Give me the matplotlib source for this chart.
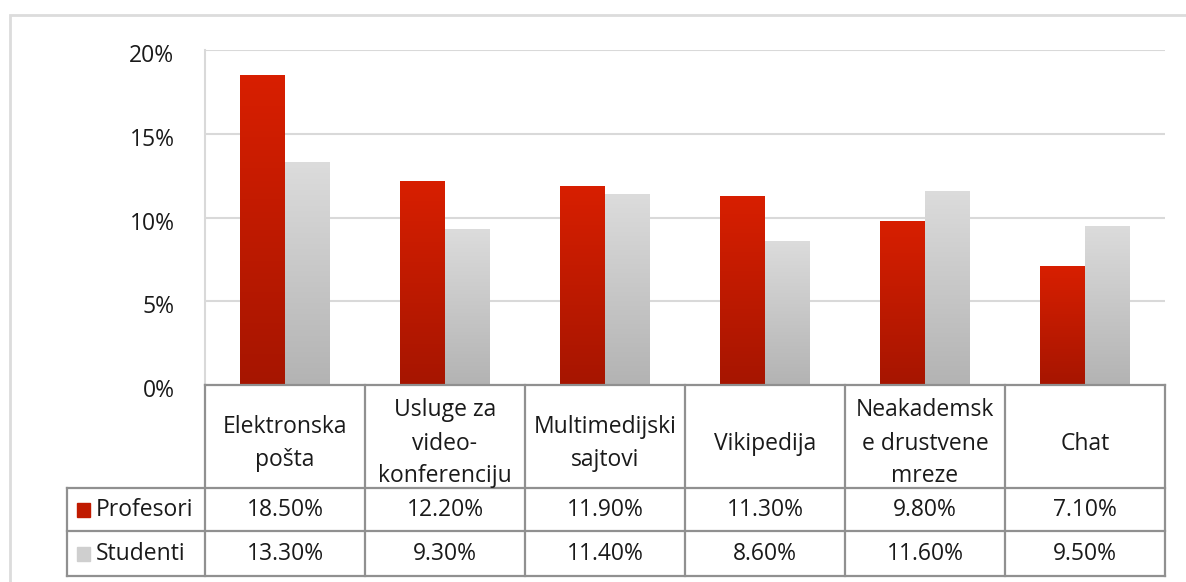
import numpy as np
import matplotlib
matplotlib.use('Agg')
import matplotlib.pyplot as plt
from matplotlib.patches import Rectangle
from matplotlib.transforms import blended_transform_factory, ScaledTranslation
from matplotlib.colors import LinearSegmentedColormap

categories = ['Elektronska\npošta', 'Usluge za\nvideo-\nkonferenciju', 'Multimedijski\nsajtovi',
              'Vikipedija', 'Neakademsk\ne drustvene\nmreze', 'Chat']
profesori = [18.5, 12.2, 11.9, 11.3, 9.8, 7.1]
studenti = [13.3, 9.3, 11.4, 8.6, 11.6, 9.5]
series_names = ['Profesori', 'Studenti']
yticks = [0, 5, 10, 15, 20]

plt.rcParams['font.family'] = ['Open Sans', 'DejaVu Sans']
FS = 16.5
TXT = '#1a1a1a'

W, H = 1186, 582
fig = plt.figure(figsize=(W / 100, H / 100), dpi=100)
ax = fig.add_axes([205 / W, 1 - 385 / H, 960 / W, 335 / H])

# gradient colour maps (top -> bottom)
red_cmap = LinearSegmentedColormap.from_list('red', ['#a61500', '#d81f00'])
grey_cmap = LinearSegmentedColormap.from_list('grey', ['#b3b3b3', '#dcdcdc'])

x = np.arange(len(categories))
bw = 0.28
series = [(profesori, -bw / 2, red_cmap), (studenti, bw / 2, grey_cmap)]
grad = np.linspace(0, 1, 256).reshape(-1, 1)
for vals, off, cmap in series:
    bars = ax.bar(x + off, vals, width=bw, color='none', zorder=2)
    for b in bars:
        x0, h = b.get_x(), b.get_height()
        im = ax.imshow(grad, extent=[x0, x0 + bw, 0, h], origin='lower', aspect='auto',
                       cmap=cmap, zorder=2)
        im.set_clip_path(b)

ax.set_xlim(-0.5, len(categories) - 0.5)
ax.set_ylim(0, 20)
ax.set_yticks(yticks)
ax.set_yticklabels([f'{v}%' for v in yticks], fontsize=FS, color=TXT)
ax.set_xticks([])
ax.tick_params(axis='y', length=0, pad=22)
shift = ScaledTranslation(0, -3 / 100, fig.dpi_scale_trans)
for t in ax.get_yticklabels():
    t.set_transform(t.get_transform() + shift)
ax.yaxis.grid(True, color='#d9d9d9', lw=1.5)
ax.set_axisbelow(True)
for s in ['top', 'right', 'bottom']:
    ax.spines[s].set_visible(False)
ax.spines['left'].set_color('#d9d9d9')
ax.spines['left'].set_linewidth(1.5)

# data table below the axes
trans = blended_transform_factory(ax.transData, ax.transAxes)
lc, lw = '#909090', 1.6
y_head = -103 / 335
y_r1 = -146 / 335
y_r2 = -191 / 335
xl = -0.5 - 138 / 160
xr = len(categories) - 0.5


def hline(x0, x1, y):
    ax.plot([x0, x1], [y, y], color=lc, lw=lw, transform=trans, clip_on=False, zorder=3)


def vline(xx, y0, y1):
    ax.plot([xx, xx], [y0, y1], color=lc, lw=lw, transform=trans, clip_on=False, zorder=3)


hline(-0.5, xr, 0)
for yy in [y_head, y_r1, y_r2]:
    hline(xl, xr, yy)
vline(xl, y_head, y_r2)
for b in np.arange(-0.5, xr + 0.01, 1):
    vline(b, 0, y_r2)

for i, lab in enumerate(categories):
    ax.text(i, y_head / 2 - 7 / 335, lab, transform=trans, ha='center', va='center',
            fontsize=FS, color=TXT, linespacing=1.5)

rows = [(series_names[0], profesori, (y_head + y_r1) / 2, '#c01a00'),
        (series_names[1], studenti, (y_r1 + y_r2) / 2, '#cfcfcf')]
for name, vals, ym, col in rows:
    for i, v in enumerate(vals):
        ax.text(i, ym - 1 / 335, f'{v:.2f}%', transform=trans, ha='center', va='center',
                fontsize=FS, color=TXT)
    ax.text(xl + 29 / 160, ym - 1 / 335, name, transform=trans, ha='left', va='center',
            fontsize=FS, color=TXT)
    ax.add_patch(Rectangle((xl + 10 / 160, ym - 7 / 335), 13 / 160, 14 / 335,
                           transform=trans, color=col, clip_on=False, zorder=3))

# outer chart frame
fig.patches.append(Rectangle((10 / W, -0.1), 1.2, 1 - 15 / H + 0.1, transform=fig.transFigure,
                             fill=False, ec='#dcdcdc', lw=2))

fig.savefig('out.png', dpi=100)
